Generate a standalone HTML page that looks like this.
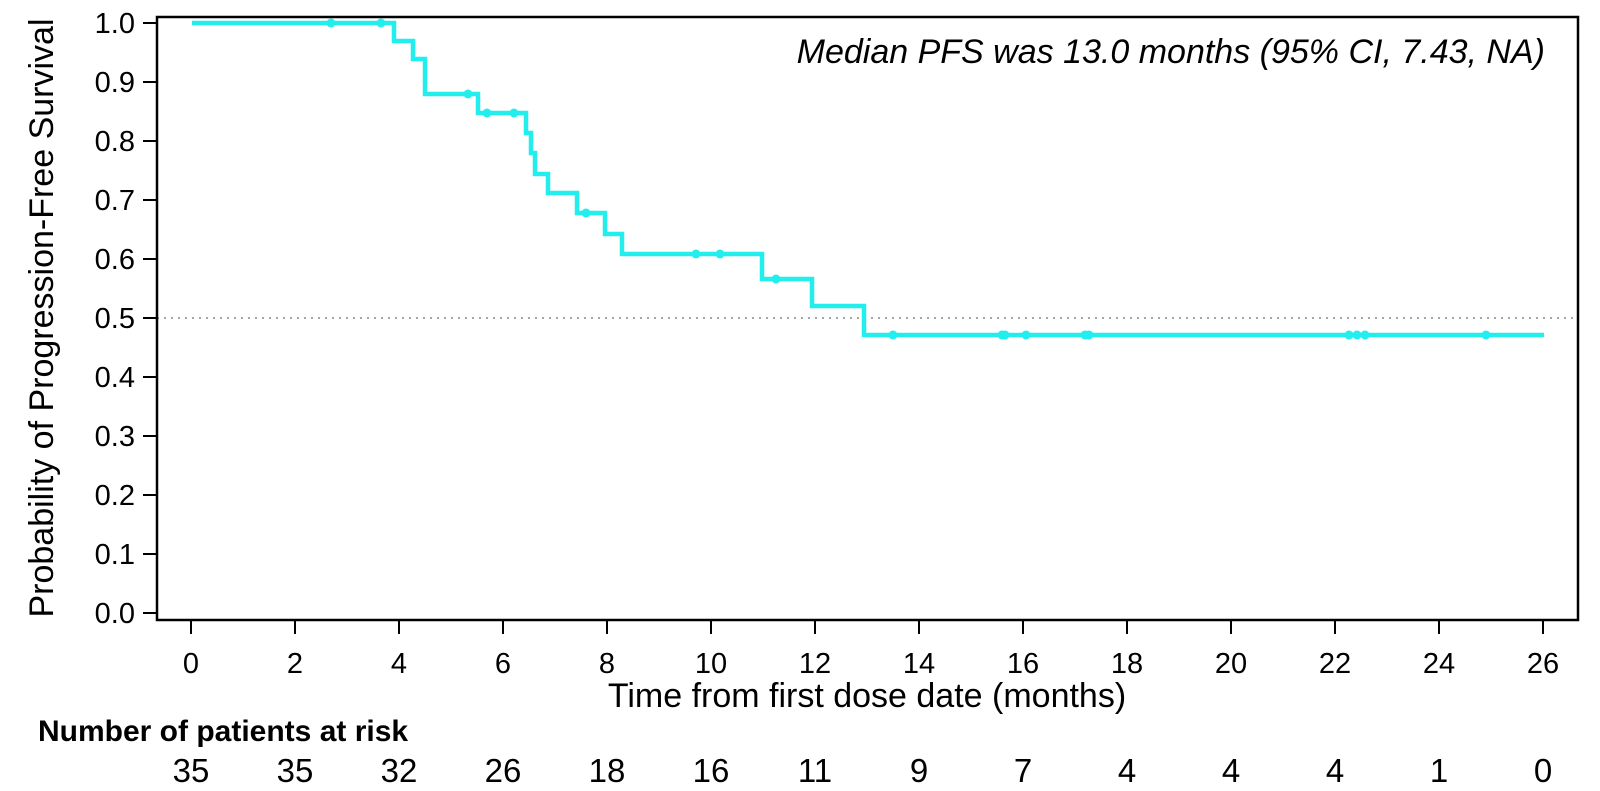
<!DOCTYPE html>
<html><head><meta charset="utf-8"><style>
html,body{margin:0;padding:0;background:#fff;}
svg{display:block;font-family:"Liberation Sans",Arial,sans-serif;}
</style></head><body>
<svg width="1600" height="791" viewBox="0 0 1600 791" xmlns="http://www.w3.org/2000/svg">
<rect x="0" y="0" width="1600" height="791" fill="#fff"/>
<line x1="157" y1="318" x2="1578" y2="318" stroke="#888" stroke-width="1.5" stroke-dasharray="2,5"/>
<rect x="157" y="17" width="1421" height="603" fill="none" stroke="#000" stroke-width="2.5"/>
<g stroke="#000" stroke-width="2">
<line x1="143" y1="23" x2="157" y2="23"/><line x1="143" y1="82" x2="157" y2="82"/><line x1="143" y1="141" x2="157" y2="141"/><line x1="143" y1="200" x2="157" y2="200"/><line x1="143" y1="259" x2="157" y2="259"/><line x1="143" y1="318" x2="157" y2="318"/><line x1="143" y1="377" x2="157" y2="377"/><line x1="143" y1="436" x2="157" y2="436"/><line x1="143" y1="495" x2="157" y2="495"/><line x1="143" y1="554" x2="157" y2="554"/><line x1="143" y1="613" x2="157" y2="613"/>
</g>
<g font-size="29" text-anchor="end" fill="#000">
<text x="135" y="33">1.0</text><text x="135" y="92">0.9</text><text x="135" y="151">0.8</text><text x="135" y="210">0.7</text><text x="135" y="269">0.6</text><text x="135" y="328">0.5</text><text x="135" y="387">0.4</text><text x="135" y="446">0.3</text><text x="135" y="505">0.2</text><text x="135" y="564">0.1</text><text x="135" y="623">0.0</text>
</g>
<g stroke="#000" stroke-width="2">
<line x1="191" y1="620" x2="191" y2="634"/><line x1="295" y1="620" x2="295" y2="634"/><line x1="399" y1="620" x2="399" y2="634"/><line x1="503" y1="620" x2="503" y2="634"/><line x1="607" y1="620" x2="607" y2="634"/><line x1="711" y1="620" x2="711" y2="634"/><line x1="815" y1="620" x2="815" y2="634"/><line x1="919" y1="620" x2="919" y2="634"/><line x1="1023" y1="620" x2="1023" y2="634"/><line x1="1127" y1="620" x2="1127" y2="634"/><line x1="1231" y1="620" x2="1231" y2="634"/><line x1="1335" y1="620" x2="1335" y2="634"/><line x1="1439" y1="620" x2="1439" y2="634"/><line x1="1543" y1="620" x2="1543" y2="634"/>
</g>
<g font-size="29" text-anchor="middle" fill="#000">
<text x="191" y="673">0</text><text x="295" y="673">2</text><text x="399" y="673">4</text><text x="503" y="673">6</text><text x="607" y="673">8</text><text x="711" y="673">10</text><text x="815" y="673">12</text><text x="919" y="673">14</text><text x="1023" y="673">16</text><text x="1127" y="673">18</text><text x="1231" y="673">20</text><text x="1335" y="673">22</text><text x="1439" y="673">24</text><text x="1543" y="673">26</text>
</g>
<text x="867" y="707" font-size="34" text-anchor="middle">Time from first dose date (months)</text>
<text transform="translate(53,318) rotate(-90)" font-size="34" text-anchor="middle">Probability of Progression-Free Survival</text>
<text x="1545" y="63" font-size="34" font-style="italic" text-anchor="end">Median PFS was 13.0 months (95% CI, 7.43, NA)</text>
<text x="38" y="741" font-size="30" font-weight="bold">Number of patients at risk</text>
<g font-size="33" text-anchor="middle">
<text x="191" y="782">35</text><text x="295" y="782">35</text><text x="399" y="782">32</text><text x="503" y="782">26</text><text x="607" y="782">18</text><text x="711" y="782">16</text><text x="815" y="782">11</text><text x="919" y="782">9</text><text x="1023" y="782">7</text><text x="1127" y="782">4</text><text x="1231" y="782">4</text><text x="1335" y="782">4</text><text x="1439" y="782">1</text><text x="1543" y="782">0</text>
</g>
<path d="M192,23 H394 V41 H413 V59 H425 V94 H478 V113 H526 V133 H531 V153 H535 V174 H548 V193 H577 V213 H605 V234 H622 V254 H762 V279 H812 V306 H864 V335 H1544" fill="none" stroke="#22eeee" stroke-width="4.5"/>
<g fill="#22eeee">
<circle cx="331" cy="23" r="4.5"/><circle cx="381" cy="23" r="4.5"/><circle cx="468" cy="94" r="4.5"/><circle cx="487" cy="113" r="4.5"/><circle cx="514" cy="113" r="4.5"/><circle cx="586" cy="213" r="4.5"/><circle cx="696" cy="254" r="4.5"/><circle cx="720" cy="254" r="4.5"/><circle cx="776" cy="279" r="4.5"/><circle cx="893" cy="335" r="4.5"/><circle cx="1002" cy="335" r="4.5"/><circle cx="1005" cy="335" r="4.5"/><circle cx="1026" cy="335" r="4.5"/><circle cx="1085" cy="335" r="4.5"/><circle cx="1089" cy="335" r="4.5"/><circle cx="1349" cy="335" r="4.5"/><circle cx="1357" cy="335" r="4.5"/><circle cx="1365" cy="335" r="4.5"/><circle cx="1486" cy="335" r="4.5"/>
</g>
</svg>
</body></html>
